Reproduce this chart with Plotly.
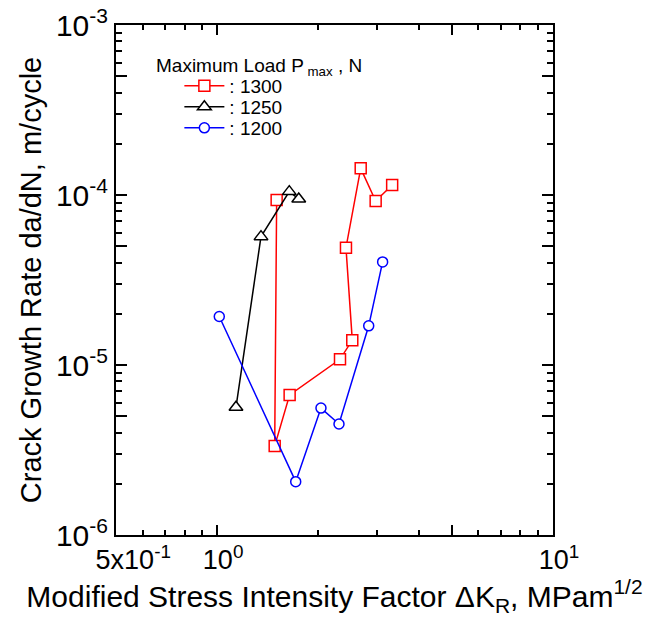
import math
import plotly.graph_objects as go

# Data (ΔK_R in MPa·m^1/2, da/dN in m/cycle)
x_1300 = [1.504, 1.484, 1.644, 2.322, 2.526, 2.419, 2.676, 2.965, 3.32]
y_1300 = [9.35e-5, 3.34e-6, 6.67e-6, 1.08e-5, 1.40e-5, 4.9e-5, 1.435e-4, 9.22e-5, 1.146e-4]

x_1250 = [1.138, 1.351, 1.640, 1.75]
y_1250 = [5.64e-6, 5.69e-5, 1.047e-4, 9.47e-5]

x_1200 = [1.015, 1.714, 2.038, 2.306, 2.827, 3.11]
y_1200 = [1.93e-5, 2.06e-6, 5.58e-6, 4.5e-6, 1.70e-5, 4.04e-5]

series_names = [": 1300", ": 1250", ": 1200"]

x_tickvals = [0.5, 1, 5, 10]
x_ticktext = ["&nbsp;&nbsp;&nbsp;5x10<sup>-1</sup>", "10<sup>0</sup>", " ", "10<sup>1</sup>"]
x_minor = [0.6, 0.7, 0.8, 0.9, 2, 3, 4, 6, 7, 8, 9]

y_tickvals = [1e-6, 5e-6, 1e-5, 5e-5, 1e-4, 5e-4, 1e-3]
y_ticktext = ["10<sup>-6</sup>", " ", "10<sup>-5</sup>", " ", "10<sup>-4</sup>", " ", "10<sup>-3</sup>"]
y_minor = [m * 10.0 ** e for e in (-6, -5, -4) for m in (2, 3, 4, 6, 7, 8, 9)]

FONT = "Arial, Liberation Sans, sans-serif"

fig = go.Figure()
styles = [
    (x_1300, y_1300, "red", "square", 11),
    (x_1250, y_1250, "black", "triangle-up", 12),
    (x_1200, y_1200, "blue", "circle", 10),
]
legend_ids = ["legend", "legend2", "legend3"]
for (xs, ys, col, sym, sz), name, lg in zip(styles, series_names, legend_ids):
    fig.add_trace(go.Scatter(
        x=xs, y=ys, mode="lines+markers", name=name, legend=lg,
        line=dict(color=col, width=1.5),
        marker=dict(symbol=sym, size=sz, color="white", line=dict(color=col, width=1.5)),
    ))

fig.update_xaxes(
    type="log", showgrid=False, zeroline=False, automargin=False,
    showline=True, linewidth=2, linecolor="black", mirror="allticks",
    ticks="inside", tickwidth=1.5, tickcolor="black",
    range=[math.log10(0.5), 1],
    tickmode="array", tickvals=x_tickvals, ticktext=x_ticktext, ticklen=10,
    ticklabelshift=6,
    tickfont=dict(family=FONT, size=27, color="black"),
    minor=dict(tickmode="array", tickvals=x_minor, ticks="inside", ticklen=5,
               tickwidth=1.5, tickcolor="black", showgrid=False),
    title=dict(text="Modified Stress Intensity Factor ΔK<sub>R</sub>, MPam<sup>1/2</sup>",
               font=dict(family=FONT, size=30, color="black"), standoff=6),
)
fig.update_yaxes(
    type="log", showgrid=False, zeroline=False, automargin=False,
    showline=True, linewidth=2, linecolor="black", mirror="allticks",
    ticks="inside", tickwidth=1.5, tickcolor="black",
    range=[-6, -3],
    tickmode="array", tickvals=y_tickvals, ticktext=y_ticktext, ticklen=11,
    tickfont=dict(family=FONT, size=30, color="black"),
    minor=dict(tickmode="array", tickvals=y_minor, ticks="inside", ticklen=6,
               tickwidth=1.5, tickcolor="black", showgrid=False),
    title=dict(text="Crack Growth Rate da/dN, m/cycle",
               font=dict(family=FONT, size=29, color="black"), standoff=6),
)

fig.add_annotation(
    text="Maximum Load P<sub> max</sub> , N", xref="paper", yref="paper",
    x=0.087, y=0.918, xanchor="left", yanchor="middle", showarrow=False,
    font=dict(family=FONT, size=19, color="black"),
)

leg_common = dict(xanchor="left", yanchor="middle", bgcolor="rgba(0,0,0,0)",
                  font=dict(family=FONT, size=19, color="black"), itemwidth=40)
row_px = [86, 107, 128]
legs = {}
for lg, py in zip(legend_ids, row_px):
    legs[lg] = dict(leg_common, x=0.145, y=(535 - py) / 510)

fig.update_layout(
    template="simple_white",
    width=645, height=620,
    margin=dict(l=116, r=92, t=25, b=85, autoexpand=False),
    paper_bgcolor="white", plot_bgcolor="white",
    showlegend=True,
    font=dict(family=FONT, color="black"),
    **legs,
)

fig.write_html("out.html")
